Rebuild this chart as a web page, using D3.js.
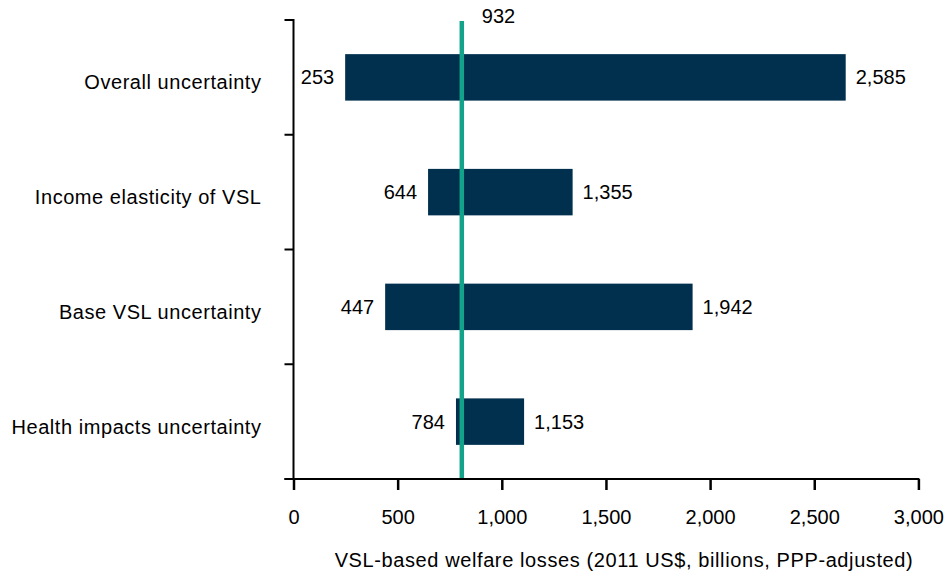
<!DOCTYPE html>
<html>
<head>
<meta charset="utf-8">
<script src="https://cdn.jsdelivr.net/npm/d3@7"></script>
<style>
  body { margin: 0; background: #fff; }
  svg text { font-family: "Liberation Sans", Arial, sans-serif; fill: #000; }
</style>
</head>
<body>
<div id="grafico"></div>
<script>
const categorias = ["Overall uncertainty", "Income elasticity of VSL", "Base VSL uncertainty", "Health impacts uncertainty"];
// numbers printed next to the bars
const etiquetaBaja = [253, 644, 447, 784];
const etiquetaAlta = [2585, 1355, 1942, 1153];
// bar extents as drawn in the picture
const barraBaja = [248, 646, 440, 780];
const barraAlta = [2651, 1340, 1916, 1107];
// central line: printed value and drawn position
const centralEtiqueta = 932;
const centralBarra = 808;
const ticksX = [0, 500, 1000, 1500, 2000, 2500, 3000];
const tituloX = "VSL-based welfare losses (2011 US$, billions, PPP-adjusted)";

const datos = categorias.map((c, i) => ({
    cat: c, lo: barraBaja[i], hi: barraAlta[i], loTxt: etiquetaBaja[i], hiTxt: etiquetaAlta[i]
}));

const W = 945, H = 575;
const margin = { top: 20, right: 26.6, bottom: 96, left: 293.5 };
const width = W - margin.left - margin.right;
const height = H - margin.top - margin.bottom;

const svg = d3.select("#grafico").append("svg")
    .attr("width", W).attr("height", H)
    .append("g")
    .attr("transform", `translate(${margin.left}, ${margin.top})`);

const x = d3.scaleLinear().domain([0, 3000]).range([0, width]);
const y = d3.scaleBand().domain(categorias).range([0, height]).padding(0);

const fmt = d3.format(",");
const barH = y.bandwidth() * 0.405;

// bars
svg.selectAll(".bar")
    .data(datos)
    .enter()
    .append("rect")
    .attr("class", "bar")
    .attr("x", d => x(d.lo))
    .attr("y", d => y(d.cat) + (y.bandwidth() - barH) / 2)
    .attr("width", d => x(d.hi) - x(d.lo))
    .attr("height", barH)
    .attr("fill", "#01304f");

// value labels
svg.selectAll(".lbl-lo")
    .data(datos)
    .enter()
    .append("text")
    .attr("x", d => x(d.lo) - 11)
    .attr("y", d => y(d.cat) + y.bandwidth() / 2)
    .attr("dy", "0.35em")
    .attr("text-anchor", "end")
    .attr("font-size", "20px")
    .text(d => fmt(d.loTxt));

svg.selectAll(".lbl-hi")
    .data(datos)
    .enter()
    .append("text")
    .attr("x", d => x(d.hi) + 10)
    .attr("y", d => y(d.cat) + y.bandwidth() / 2)
    .attr("dy", "0.35em")
    .attr("text-anchor", "start")
    .attr("font-size", "20px")
    .text(d => fmt(d.hiTxt));

// central line
svg.append("line")
    .attr("x1", x(centralBarra)).attr("x2", x(centralBarra))
    .attr("y1", 1).attr("y2", height)
    .attr("stroke", "#13a38b")
    .attr("stroke-width", 4.5);

svg.append("text")
    .attr("x", x(centralBarra) + 20)
    .attr("y", 3)
    .attr("font-size", "20px")
    .text(fmt(centralEtiqueta));

// y axis with ticks at band edges
const yAxis = svg.append("g");
yAxis.append("line")
    .attr("x1", 0).attr("x2", 0)
    .attr("y1", -1).attr("y2", height)
    .attr("stroke", "#000").attr("stroke-width", 2);
const bordes = categorias.map(c => y(c)).concat([height]);
yAxis.selectAll(".ytick")
    .data(bordes)
    .enter()
    .append("line")
    .attr("x1", -9).attr("x2", 0)
    .attr("y1", d => d).attr("y2", d => d)
    .attr("stroke", "#000").attr("stroke-width", 2);

yAxis.selectAll(".ylbl")
    .data(categorias)
    .enter()
    .append("text")
    .attr("x", -32)
    .attr("y", d => y(d) + y.bandwidth() / 2 + 12)
    .attr("text-anchor", "end")
    .attr("font-size", "20px")
    .attr("letter-spacing", "0.55px")
    .text(d => d);

// x axis
const xAxis = svg.append("g")
    .attr("transform", `translate(0, ${height})`)
    .call(d3.axisBottom(x)
        .tickValues(ticksX)
        .tickFormat(fmt)
        .tickSize(11)
        .tickPadding(20)
        .tickSizeOuter(0))
    .attr("font-size", "20px")
    .attr("font-family", "Liberation Sans, Arial, sans-serif");

xAxis.select(".domain").attr("stroke", "#000").attr("stroke-width", 2)
    .attr("d", `M-9,0H${width + 1}`);
xAxis.selectAll(".tick line").attr("stroke", "#000").attr("stroke-width", 2.5);
xAxis.selectAll(".tick text").attr("fill", "#000");

svg.append("text")
    .attr("x", 330.5)
    .attr("y", height + 88)
    .attr("text-anchor", "middle")
    .attr("font-size", "20px")
    .attr("letter-spacing", "0.6px")
    .text(tituloX);
</script>
</body>
</html>
